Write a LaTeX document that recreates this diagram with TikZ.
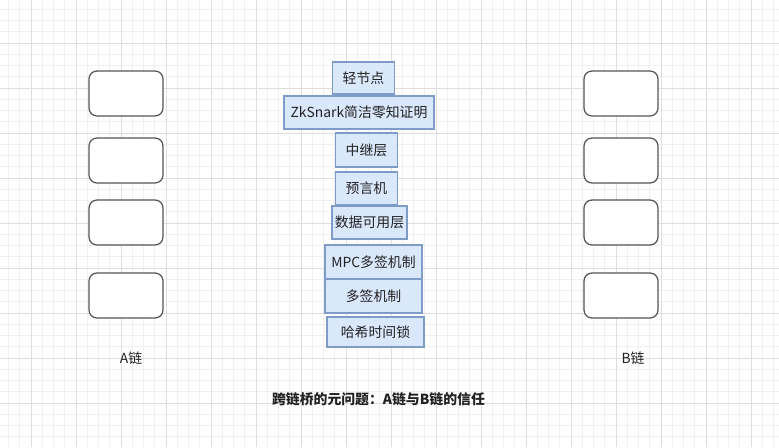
\documentclass[tikz,border=0pt]{standalone}
\usepackage{fontspec}
\setmainfont{Noto Sans CJK SC}
\definecolor{minorgrid}{HTML}{F0F0F0}
\definecolor{majorgrid}{HTML}{DEDEDE}
\definecolor{layerfill}{HTML}{DAE8FC}
\definecolor{layerline}{HTML}{7F9CC8}
\definecolor{blockline}{HTML}{555555}
\definecolor{textcol}{HTML}{222222}
\begin{document}
\begin{tikzpicture}[x=0.75pt,y=-0.75pt,
	every node/.style={font=\fontsize{10.4}{12}\selectfont,text=textcol,inner sep=0},
	block/.style={draw=blockline,line width=0.95pt,rounded corners=6pt,fill=white,
	minimum width=55.5pt,minimum height=33.75pt},
	layer/.style={draw=layerline,line width=0.8pt,fill=layerfill,minimum width=#1},
	layer/.default=47pt]
\useasboundingbox[fill=white] (0,0) rectangle (779,447);
% grid
\foreach \i in {0,...,69} \draw[minorgrid,line width=0.6pt] ({8.5+11.25*\i},0) -- ++(0,447);
\foreach \i in {0,...,39} \draw[minorgrid,line width=0.6pt] (0,{9.25+11.25*\i}) -- ++(779,0);
\foreach \i in {0,...,16} \draw[majorgrid,line width=0.7pt] ({31+45*\i},0) -- ++(0,447);
\foreach \i in {0,...,8} \draw[majorgrid,line width=0.7pt] (0,{43+45*\i}) -- ++(779,0);
% A chain and B chain
\foreach \n/\y in {1/93.5,2/160.5,3/222.5,4/295.5}{
	\node[block] (a\n) at (126,\y) {};
	\node[block] (b\n) at (621,\y) {};
}
\node (alabel) at (131,358) {A链};
\node (blabel) at (633,358) {B链};
% bridge layers
\node[layer,minimum height=24pt] (light) at (363.5,78) {轻节点};
\node[layer=112.5pt,minimum height=24.75pt] (zk) at (359,112.5) {ZkSnark简洁零知证明};
\node[layer,minimum height=25.5pt] (relay) at (366.5,150) {中继层};
\node[layer,minimum height=24.75pt] (oracle) at (366.5,188.5) {预言机};
\node[layer=56.25pt,minimum height=24.75pt] (da) at (369.5,222.5) {数据可用层};
\node[layer=72.75pt,minimum height=25.5pt] (mpc) at (373.5,262) {MPC多签机制};
\node[layer=72.75pt,minimum height=25.5pt] (multisig) at (373.5,296) {多签机制};
\node[layer=72.75pt,minimum height=22.5pt] (htlc) at (375.5,332) {哈希时间锁};
\node[font=\fontsize{10.4}{12}\selectfont\bfseries] (title) at (378.5,399) {跨链桥的元问题：A链与B链的信任};
\end{tikzpicture}
\end{document}
